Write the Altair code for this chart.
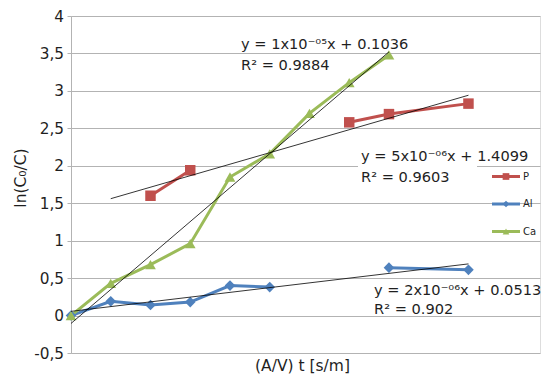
import altair as alt
import pandas as pd

# ---------------- data ----------------
x_pos = [0, 1, 2, 3, 4, 5, 6, 7, 8, 10]
p_vals = [None, None, 1.60, 1.94, None, None, None, 2.58, 2.69, 2.83]
al_vals = [0.0, 0.19, 0.14, 0.18, 0.40, 0.38, None, None, 0.64, 0.61]
ca_vals = [0.0, 0.43, 0.68, 0.96, 1.85, 2.16, 2.70, 3.11, 3.48, None]

series_names = ["P", "Al", "Ca"]
series_colors = ["#C0504D", "#4F81BD", "#9BBB59"]
series_shapes = ["square", "diamond", "triangle-up"]
series_sizes = [110, 115, 135]
trend_extents = [[1, 10], [0, 10], [0, 8]]

y_ticks = [-0.5, 0, 0.5, 1, 1.5, 2, 2.5, 3, 3.5, 4]

eq_texts = [
    "y = 1x10\u207b\u2070\u2075x + 0.1036", "R\u00b2 = 0.9884",
    "y = 5x10\u207b\u2070\u2076x + 1.4099", "R\u00b2 = 0.9603",
    "y = 2x10\u207b\u2070\u2076x + 0.0513", "R\u00b2 = 0.902",
]
# positions in page pixels (converted below to plot-area pixels)
eq_x = [241, 241, 361, 361, 374, 374]
eq_y = [48.7, 69.7, 160.7, 181.7, 295, 314.3]

legend_y = [176.5, 204, 231.5]

FONT = "DejaVu Sans"
TXT = "#1f1f1f"
GRID = "#B3B3B3"
PAD_L, PAD_T = 71, 16

# ---------------- build table ----------------
rows = []
for name, vals in zip(series_names, [p_vals, al_vals, ca_vals]):
    seg = 0
    gap = True
    for xv, yv in zip(x_pos, vals):
        if yv is None:
            gap = True
            continue
        if gap:
            seg += 1
            gap = False
        rows.append({"series": name, "x": xv, "y": yv, "seg": f"{name}{seg}"})
df = pd.DataFrame(rows)

xs = alt.Scale(domain=[0, 11.8], nice=False, zero=False)
ys = alt.Scale(domain=[-0.5, 4], nice=False, zero=False)

x_axis = alt.Axis(labels=False, ticks=False, domain=False, grid=False,
                  title="(A/V) t [s/m]", titleFontSize=15.5, titleFontWeight="normal",
                  titleColor=TXT, titleX=231, titleY=17.5, titleBaseline="alphabetic",
                  titleAlign="center", titleFont=FONT)
y_axis = alt.Axis(values=y_ticks, labelExpr="replace(toString(datum.value), '.', ',')",
                  labelFontSize=15.3, labelColor=TXT, labelPadding=3.5, labelFont=FONT,
                  tickSize=4, tickColor=GRID, domainColor=GRID, gridColor=GRID,
                  grid=True, title="ln(C\u2080/C)", titleFontSize=15.5,
                  titleFontWeight="normal", titleColor=TXT, titleX=-45.5, titleY=161.5,
                  titleAngle=270, titleBaseline="alphabetic", titleAlign="center",
                  titleFont=FONT)

X = alt.X("x:Q", scale=xs, axis=x_axis)
Y = alt.Y("y:Q", scale=ys, axis=y_axis)
color = alt.Color("series:N", scale=alt.Scale(domain=series_names, range=series_colors), legend=None)

base = alt.Chart(df)
lines = base.mark_line(strokeWidth=3).encode(x=X, y=Y, color=color, detail="seg:N")
points = base.mark_point(filled=True, opacity=1, strokeWidth=0).encode(
    x=X, y=Y, color=color,
    shape=alt.Shape("series:N", scale=alt.Scale(domain=series_names, range=series_shapes), legend=None),
    size=alt.Size("series:N", scale=alt.Scale(domain=series_names, range=series_sizes), legend=None),
)

layers = [lines, points]

for name, ext in zip(series_names, trend_extents):
    tr = (alt.Chart(df)
          .transform_filter(alt.datum.series == name)
          .transform_regression("x", "y", extent=ext)
          .mark_line(color="black", strokeWidth=0.8)
          .encode(x=X, y=Y))
    layers.append(tr)

one = pd.DataFrame({"a": [0]})

# white box behind part of P equation (as in reference)
layers.append(alt.Chart(one).mark_rect(color="white").encode(
    x=alt.value(358 - PAD_L), x2=alt.value(477 - PAD_L),
    y=alt.value(149 - PAD_T), y2=alt.value(170 - PAD_T)))

for t, px, py in zip(eq_texts, eq_x, eq_y):
    layers.append(alt.Chart(one).mark_text(align="left", baseline="alphabetic",
                                           fontSize=14.6, font=FONT, color=TXT).encode(
        x=alt.value(px - PAD_L), y=alt.value(py - PAD_T), text=alt.value(t)))

# legend
for name, col, shp, ly in zip(series_names, series_colors, series_shapes, legend_y):
    layers.append(alt.Chart(one).mark_rule(color=col, strokeWidth=3).encode(
        x=alt.value(492 - PAD_L), x2=alt.value(520 - PAD_L), y=alt.value(ly - PAD_T)))
    layers.append(alt.Chart(one).mark_point(filled=True, opacity=1, color=col, shape=shp,
                                            size=45, strokeWidth=0).encode(
        x=alt.value(506 - PAD_L), y=alt.value(ly - PAD_T)))
    layers.append(alt.Chart(one).mark_text(align="left", baseline="middle", fontSize=10,
                                           font=FONT, color=TXT).encode(
        x=alt.value(523 - PAD_L), y=alt.value(ly - PAD_T), text=alt.value(name)))

chart = (alt.layer(*layers)
         .properties(width=469, height=337,
                     autosize=alt.AutoSizeParams(type="none"),
                     padding={"left": PAD_L, "top": PAD_T, "right": 5, "bottom": 23})
         .configure_view(stroke=None)
         .configure(font=FONT, background="white"))

chart.save("out.html", embed_options={"renderer": "svg", "actions": False})
